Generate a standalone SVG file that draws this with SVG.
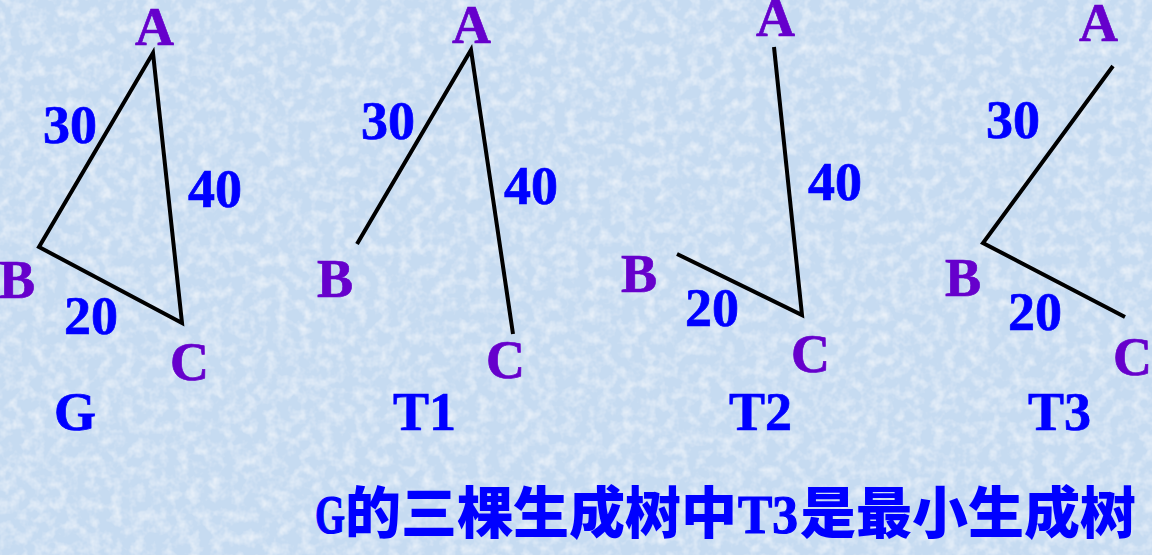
<svg xmlns="http://www.w3.org/2000/svg" width="1152" height="555" viewBox="0 0 1152 555">
  <defs>
    <filter id="tex" x="0" y="0" width="100%" height="100%">
      <feTurbulence type="fractalNoise" baseFrequency="0.09" numOctaves="3" seed="7" result="n"/>
      <feColorMatrix in="n" type="matrix" values="0 0 0 0 1  0 0 0 0 1  0 0 0 0 1  0 0 0 1.1 -0.45" result="w"/>
      <feComposite in="w" in2="SourceGraphic" operator="over"/>
    </filter>
    <style>
      .node { font-family: "Liberation Serif", "Times New Roman", serif; font-weight: bold; font-size: 54px; fill: #6600CC; stroke: #6600CC; stroke-width: 0.7; }
      .w { font-family: "Liberation Serif", "Times New Roman", serif; font-weight: bold; font-size: 54px; fill: #0000FF; stroke: #0000FF; stroke-width: 0.7; }
      .cap { font-family: "Liberation Serif", "Times New Roman", serif; font-weight: bold; font-size: 54px; fill: #0000FF; stroke: #0000FF; stroke-width: 0.7; }
      .edge { fill: none; stroke: #000000; stroke-width: 4; stroke-linejoin: miter; stroke-linecap: butt; }
      .title { font-size: 56px; fill: #0000FF; }
      .lat { font-family: "Liberation Serif", "Times New Roman", serif; font-weight: bold; font-size: 54px; stroke: #0000FF; stroke-width: 1.2; }
      .cjk { font-family: "Noto Sans CJK SC", "Noto Sans CJK TC", sans-serif; font-weight: 900; }
    </style>
  </defs>

  <rect x="0" y="0" width="1152" height="555" fill="#C6DBF1" filter="url(#tex)"/>

  <g id="connectors">
    <polygon class="edge" points="153,53 39,247 182,323"/>
    <polyline class="edge" points="357,244 471,50 513,334"/>
    <polyline class="edge" points="774,47 802,315 677,254"/>
    <polyline class="edge" points="1113,66 983,243 1125,317"/>
  </g>

  <g id="edge-labels">
    <text class="w" x="43" y="143">30</text>
    <text class="w" x="188" y="207">40</text>
    <text class="w" x="64" y="334">20</text>
    <text class="w" x="361" y="139">30</text>
    <text class="w" x="504" y="204">40</text>
    <text class="w" x="808" y="200">40</text>
    <text class="w" x="685" y="326">20</text>
    <text class="w" x="986" y="138">30</text>
    <text class="w" x="1008" y="330">20</text>
  </g>

  <g id="graph-G">
    <g id="G-A"><text class="node" x="135" y="45">A</text></g>
    <g id="G-B"><text class="node" x="-1" y="298">B</text></g>
    <g id="G-C"><text class="node" x="170" y="380">C</text></g>
    <text class="cap" x="54" y="430">G</text>
  </g>

  <g id="graph-T1">
    <g id="T1-A"><text class="node" x="452" y="43">A</text></g>
    <g id="T1-B"><text class="node" x="317" y="297">B</text></g>
    <g id="T1-C"><text class="node" x="486" y="378">C</text></g>
    <text class="cap" x="393" y="430">T1</text>
  </g>

  <g id="graph-T2">
    <g id="T2-A"><text class="node" x="756" y="36">A</text></g>
    <g id="T2-B"><text class="node" x="621" y="292">B</text></g>
    <g id="T2-C"><text class="node" x="791" y="372">C</text></g>
    <text class="cap" x="729" y="430">T2</text>
  </g>

  <g id="graph-T3">
    <g id="T3-A"><text class="node" x="1079" y="41">A</text></g>
    <g id="T3-B"><text class="node" x="945" y="296">B</text></g>
    <g id="T3-C"><text class="node" x="1113" y="375">C</text></g>
    <text class="cap" x="1028" y="430">T3</text>
  </g>

  <text class="title" y="533"><tspan class="lat" x="315" textLength="30" lengthAdjust="spacingAndGlyphs">G</tspan><tspan class="cjk" x="345">的三棵生成树中</tspan><tspan class="lat" x="738" textLength="60" lengthAdjust="spacingAndGlyphs">T3</tspan><tspan class="cjk" x="800">是最小生成树</tspan></text>
</svg>
